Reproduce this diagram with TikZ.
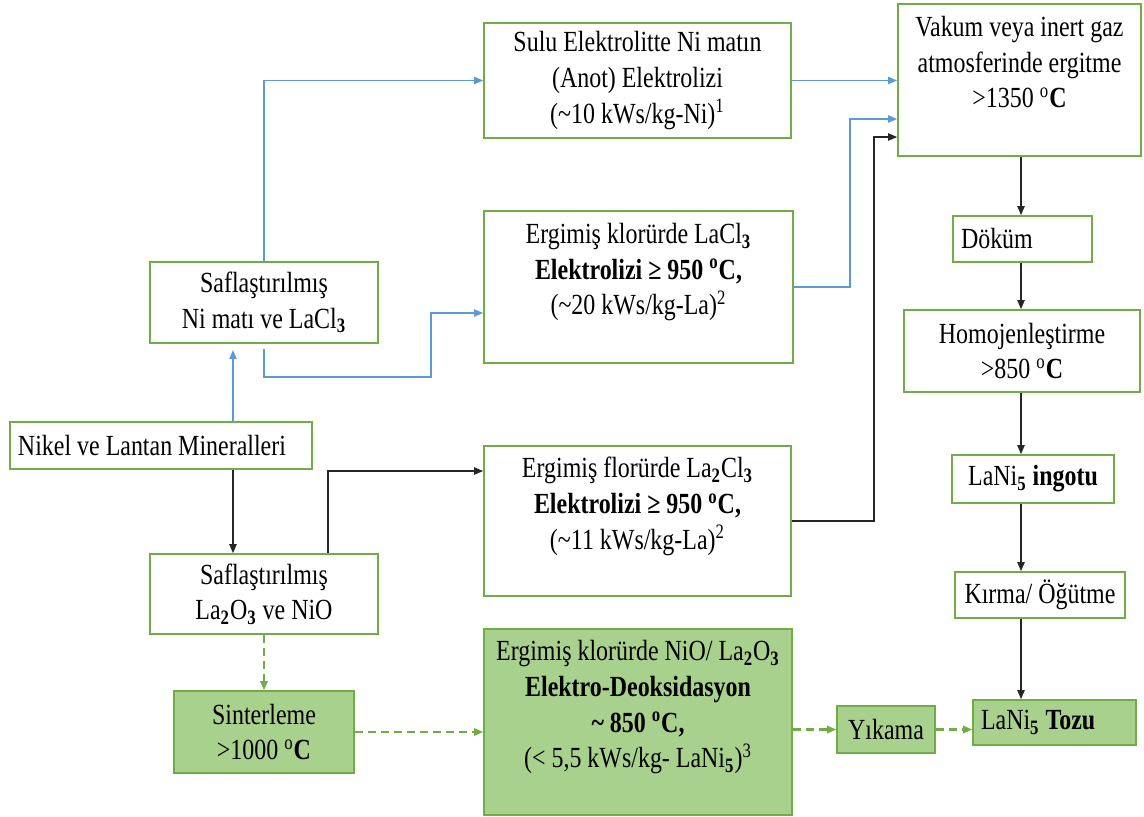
\documentclass[tikz,border=0pt]{standalone}
\usepackage{fontspec}
\setmainfont[FakeStretch=0.82]{Liberation Serif}
\usetikzlibrary{arrows.meta,calc}
\definecolor{kutuYesil}{RGB}{112,173,71}
\definecolor{dolguYesil}{RGB}{169,209,142}
\definecolor{okMavi}{RGB}{91,155,213}
\colorlet{okSiyah}{black!85}
\newcommand{\dg}{\textsuperscript{o}}
\newcommand{\alt}[1]{\textsubscript{\textbf{#1}}}

\begin{document}
\begin{tikzpicture}[x=0.5pt,y=-0.5pt,
    kutu/.style={draw=kutuYesil,line width=0.8pt,fill=white,align=center,
      inner sep=3pt,font=\fontsize{14.6}{17.8}\selectfont,text=black},
    yesil/.style={kutu,fill=dolguYesil},
    solkutu/.style={kutu,align=flush left,inner xsep=4pt},
    mavi/.style={draw=okMavi,line width=0.75pt,-{Triangle[length=4.5pt,width=3.6pt]}},
    siyah/.style={draw=okSiyah,line width=0.75pt,-{Triangle[length=4.5pt,width=3.6pt]}},
    kesik/.style={draw=kutuYesil,line width=1.1pt,dash pattern=on 4pt off 2.5pt,
      -{Triangle[length=4.5pt,width=3.6pt]}}
  ]
  \useasboundingbox (0,0) rectangle (1144,816);

  % Kutular piksel koordinatlarıyla yerleştirildi (y aşağı doğru).
  \node[kutu,minimum width=153.5pt,minimum height=57.5pt] (sulu) at (637.5,80.5)
    {Sulu Elektrolitte Ni matın\\(Anot) Elektrolizi\\(\textasciitilde10 kWs/kg-Ni)\textsuperscript{1}};
  \node[kutu,minimum width=121.5pt,minimum height=76pt] (vakum) at (1019.5,80)
    {Vakum veya inert gaz\\atmosferinde ergitme\\>1350 \dg\textbf{C}\\\mbox{}};
  \node[kutu,minimum width=154.5pt,minimum height=76pt] (klor) at (638.5,287)
    {Ergimiş klorürde LaCl\alt{3}\\\textbf{Elektrolizi ≥ 950 \dg C,}\\(\textasciitilde20 kWs/kg-La)\textsuperscript{2}\\\mbox{}};
  \node[kutu,minimum width=114pt,minimum height=40.5pt] (ni) at (264,302.5)
    {Saflaştırılmış\\Ni matı ve LaCl\alt{3}};
  \node[solkutu,text width=143pt,minimum height=23.5pt] (nikel) at (161,445.5)
    {Nikel ve Lantan Mineralleri};
  \node[kutu,minimum width=153.5pt,minimum height=75pt] (flor) at (637.5,521)
    {Ergimiş florürde La\alt{2}Cl\alt{3}\\\textbf{Elektrolizi ≥ 950 \dg C,}\\(\textasciitilde11 kWs/kg-La)\textsuperscript{2}\\\mbox{}};
  \node[kutu,minimum width=114pt,minimum height=40pt] (lao) at (264,594)
    {Saflaştırılmış\\La\alt{2}O\alt{3} ve NiO};
  \node[yesil,minimum width=90pt,minimum height=41pt] (sinter) at (264,732)
    {Sinterleme\\>1000 \dg\textbf{C}};
  \node[yesil,minimum width=154pt,minimum height=93pt] (deoks) at (638,722)
    {Ergimiş klorürde NiO/ La\alt{2}O\alt{3}\\\textbf{Elektro-Deoksidasyon}\\\textbf{\textasciitilde{} 850 \dg C,}\\(< 5,5 kWs/kg- LaNi\alt{5})\textsuperscript{3}\\\mbox{}};
  \node[yesil,minimum width=49pt,minimum height=23.5pt] (yikama) at (886,729.5) {Yıkama};
  \node[yesil,align=flush left,inner xsep=4pt,text width=73.5pt,minimum height=22.5pt] (tozu) at (1054.5,722.5)
    {LaNi\alt{5} \textbf{Tozu}};
  \node[solkutu,text width=61.5pt,minimum height=23pt] (dokum) at (1022.5,239) {Döküm};
  \node[kutu,minimum width=118pt,minimum height=41pt] (homo) at (1022,351)
    {Homojenleştirme\\>850 \dg\textbf{C}};
  \node[kutu,minimum width=81pt,minimum height=24pt] (ingot) at (1033,479)
    {LaNi\alt{5} \textbf{ingotu}};
  \node[kutu,minimum width=85pt,minimum height=23pt] (kirma) at (1040,595) {Kırma/ Öğütme};

  \coordinate (b1) at (431,377);
  \coordinate (b2) at (233,350);
  \coordinate (k1) at (850,119);
  \coordinate (f1) at (874,137);
  \coordinate (l1) at (328,471);
  \coordinate (ch) at (1021,0);

  \draw[mavi] (ni.north) |- (sulu.west);
  \draw[mavi] ([yshift=-2.5pt]ni.south) |- (b1) |- ([yshift=-13pt]klor.west);
  \draw[mavi] (b2 |- nikel.north) -- (b2);
  \draw[mavi] (sulu.east) -- (sulu.east -| vakum.west);
  \draw[mavi] (klor.east) -| (k1) -- (k1 -| vakum.west);
  \draw[siyah] (flor.east) -| (f1) -- (f1 -| vakum.west);
  \draw[siyah] (b2 |- nikel.south) -- (b2 |- lao.north);
  \draw[siyah] (l1 |- lao.north) -- (l1) -- (l1 -| flor.west);
  \foreach \a/\b in {vakum/dokum,dokum/homo,homo/ingot,ingot/kirma,kirma/tozu}
    \draw[siyah] (ch |- \a.south) -- (ch |- \b.north);

  \draw[kesik] (lao.south) -- (sinter.north);
  \draw[kesik] (sinter.east) -- (sinter.east -| deoks.west);
  \draw[kesik] (yikama.west -| deoks.east) -- (yikama.west);
  \draw[kesik] (yikama.east) -- (yikama.east -| tozu.west);
\end{tikzpicture}
\end{document}
